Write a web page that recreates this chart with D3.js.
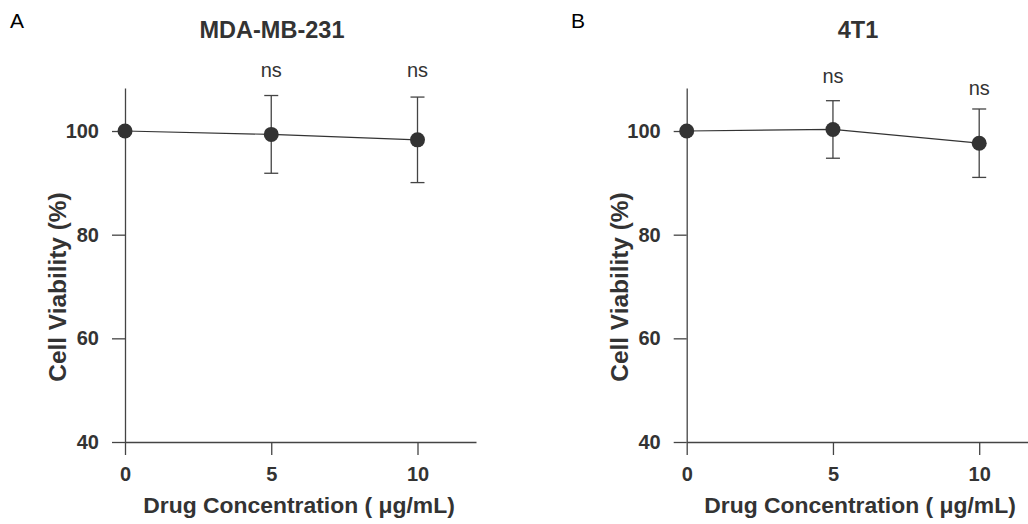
<!DOCTYPE html>
<html>
<head>
<meta charset="utf-8">
<script src="https://cdn.jsdelivr.net/npm/d3@7"></script>
<style>
    body { margin: 0; background: #fff; }
    svg text { font-family: "Liberation Sans", Arial, sans-serif; fill: #333; }
</style>
</head>
<body>
<svg id="chart" width="1028" height="524"></svg>
<script>
// shared x categories / tick labels
const concentrations = [0, 5, 10];
const xTicks = [0, 5, 10];
const yTicks = [40, 60, 80, 100];

// MDA-MB-231 (panel A)
const mdaMeans = [100, 99.35, 98.3];
const mdaSd = [0, 7.5, 8.25];
const mdaSig = ["", "ns", "ns"];
const mdaSigLevel = [null, 110.5, 110.5];

// 4T1 (panel B)
const t41Means = [100, 100.3, 97.65];
const t41Sd = [0, 5.55, 6.6];
const t41Sig = ["", "ns", "ns"];
const t41SigLevel = [null, 109.2, 106.9];

const panels = [
    { letter: "A", title: "MDA-MB-231", means: mdaMeans, sd: mdaSd, sig: mdaSig, sigLevel: mdaSigLevel,
      x0: 125, letterX: 10, titleX: 272, labelX: 299 },
    { letter: "B", title: "4T1", means: t41Means, sd: t41Sd, sig: t41Sig, sigLevel: t41SigLevel,
      x0: 686.7, letterX: 571, titleX: 858, labelX: 860 }
];

const plotW = 351;   // x axis length (domain 0..12)
const yTop = 88, yBottom = 442;
const ink = "#333";

const svg = d3.select("#chart");

panels.forEach(p => {

    let x = d3.scaleLinear().domain([0, 12]).range([p.x0, p.x0 + plotW]);
    let y = d3.scaleLinear().domain([40, 108.3]).range([yBottom, yTop]);

    let g = svg.append("g").attr("class", "panel");

    // panel letter + title
    g.append("text")
        .attr("x", p.letterX).attr("y", 28)
        .style("font-size", "21px")
        .style("fill", "#000")
        .text(p.letter);

    g.append("text")
        .attr("x", p.titleX).attr("y", 38)
        .attr("text-anchor", "middle")
        .style("font-size", "23.5px")
        .style("font-weight", "bold")
        .text(p.title);

    // axes
    let xAxis = g.append("g")
        .attr("transform", "translate(0," + yBottom + ")")
        .call(d3.axisBottom(x).tickValues(xTicks).tickSize(13).tickSizeOuter(0).tickPadding(12));

    let yAxis = g.append("g")
        .attr("transform", "translate(" + p.x0 + ",0)")
        .call(d3.axisLeft(y).tickValues(yTicks).tickSize(13).tickSizeOuter(0).tickPadding(13));

    [xAxis, yAxis].forEach(a => {
        a.select(".domain").attr("stroke", "#444").attr("stroke-width", 1.3);
        a.selectAll(".tick line").attr("stroke", "#444").attr("stroke-width", 1.3);
        a.selectAll(".tick text")
            .style("font-size", "20px")
            .style("font-weight", "bold")
            .style("font-family", "'Liberation Sans', Arial, sans-serif")
            .attr("fill", ink);
    });

    // axis titles
    g.append("text")
        .attr("x", p.labelX).attr("y", 513)
        .attr("text-anchor", "middle")
        .style("font-size", "22.9px")
        .style("font-weight", "bold")
        .text("Drug Concentration ( μg/mL)");

    g.append("text")
        .attr("transform", "translate(" + (p.x0 - 59) + ",287) rotate(-90)")
        .attr("text-anchor", "middle")
        .style("font-size", "24.4px")
        .style("font-weight", "bold")
        .text("Cell Viability (%)");

    let pts = concentrations.map((c, i) => ({ c: c, m: p.means[i], sd: p.sd[i], sig: p.sig[i], lvl: p.sigLevel[i] }));

    // error bars
    let eb = g.append("g").selectAll("g").data(pts.filter(d => d.sd > 0)).enter().append("g")
        .attr("stroke", "#444").attr("stroke-width", 1.3);
    eb.append("line")
        .attr("x1", d => x(d.c)).attr("x2", d => x(d.c))
        .attr("y1", d => y(d.m + d.sd)).attr("y2", d => y(d.m - d.sd));
    eb.append("line")
        .attr("x1", d => x(d.c) - 7).attr("x2", d => x(d.c) + 7)
        .attr("y1", d => y(d.m + d.sd)).attr("y2", d => y(d.m + d.sd));
    eb.append("line")
        .attr("x1", d => x(d.c) - 7).attr("x2", d => x(d.c) + 7)
        .attr("y1", d => y(d.m - d.sd)).attr("y2", d => y(d.m - d.sd));

    // connecting line
    g.append("path")
        .datum(pts)
        .attr("fill", "none")
        .attr("stroke", ink)
        .attr("stroke-width", 1.2)
        .attr("d", d3.line().x(d => x(d.c)).y(d => y(d.m)));

    // points
    g.append("g").selectAll("circle").data(pts).enter().append("circle")
        .attr("cx", d => x(d.c)).attr("cy", d => y(d.m))
        .attr("r", 7.5)
        .attr("fill", ink);

    // significance labels
    g.append("g").selectAll("text").data(pts.filter(d => d.sig)).enter().append("text")
        .attr("x", d => x(d.c)).attr("y", d => y(d.lvl))
        .attr("text-anchor", "middle")
        .style("font-size", "20px")
        .text(d => d.sig);
});
</script>
</body>
</html>
